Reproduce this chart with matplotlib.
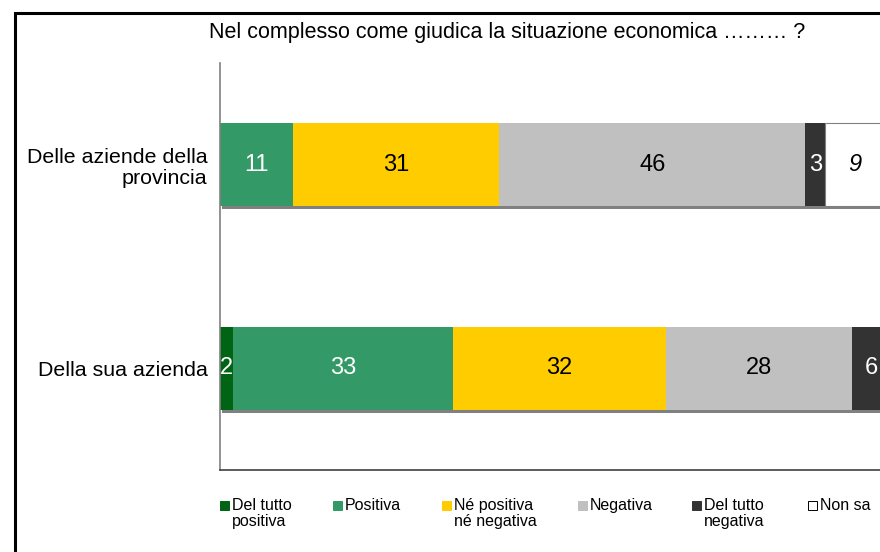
"""
Stacked horizontal bars: giudizio sulla situazione economica.
"""

import matplotlib

matplotlib.use("Agg")
import matplotlib.pyplot as plt
from matplotlib.patches import Rectangle

plt.rcParams["font.family"] = ["Liberation Sans", "DejaVu Sans"]

title = "Nel complesso come giudica la situazione economica \u2026\u2026\u2026 ?"
categories = ["Della sua azienda", "Delle aziende della\nprovincia"]
series = [
    "Del tutto\npositiva",
    "Positiva",
    "N\u00e9 positiva\nn\u00e9 negativa",
    "Negativa",
    "Del tutto\nnegativa",
    "Non sa",
]
# one list per series, same order as categories (bottom, top)
del_tutto_positiva = [2, 0]
positiva = [33, 11]
ne_pos_ne_neg = [32, 31]
negativa = [28, 46]
del_tutto_negativa = [6, 3]
non_sa = [0, 9]
values = [del_tutto_positiva, positiva, ne_pos_ne_neg, negativa, del_tutto_negativa, non_sa]

colors = ["#006414", "#339966", "#FFCC00", "#C0C0C0", "#333333", "#FFFFFF"]
label_colors = ["white", "white", "black", "black", "white", "black"]

W, H = 880, 552
fig = plt.figure(figsize=(W / 100, H / 100), dpi=100)
# axes run slightly past the right edge, as in the cropped original
ax = fig.add_axes([0.25, 0.1486, 0.7557, 0.7373])

ypos = list(range(len(categories)))
h = 0.41

# shadow under each bar
totals = [sum(v[i] for v in values) for i in ypos]
ax.barh([y - 0.014 for y in ypos], totals, height=h, left=0.3,
        color="#808080", zorder=1)

left = [0] * len(categories)
for k, (vals, col) in enumerate(zip(values, colors)):
    edge = "#808080" if col == "#FFFFFF" else col
    ax.barh(ypos, vals, height=h, left=left, color=col,
            edgecolor=edge, linewidth=0.8 if col == "#FFFFFF" else 0,
            zorder=2)
    for i, v in enumerate(vals):
        if v > 0:
            ax.text(left[i] + v / 2, ypos[i], str(v), ha="center", va="center",
                    fontsize=17, color=label_colors[k],
                    style="italic" if k == 5 else "normal", zorder=3)
    left = [l + v for l, v in zip(left, vals)]

ax.set_xlim(0, 100)
ax.set_ylim(-0.5, 1.5)
ax.set_xticks([])
ax.set_yticks(ypos)
ax.set_yticklabels(categories, fontsize=15.4, ha="right", linespacing=1.15)
ax.tick_params(axis="y", length=0, pad=9)
for s in ["top", "right"]:
    ax.spines[s].set_visible(False)
ax.spines["left"].set_color("#808080")
ax.spines["left"].set_linewidth(1.2)
ax.spines["bottom"].set_color("#404040")
ax.spines["bottom"].set_linewidth(1.2)

fig.text(0.576, 0.942, title, ha="center", va="center", fontsize=15.5)

# legend, top-aligned entries like the original
leg_x = [220, 333, 442, 578, 692, 808]
for x, lab, col in zip(leg_x, series, colors):
    fig.patches.append(Rectangle((x / W, 1 - 510 / H), 9 / W, 9 / H,
                                 transform=fig.transFigure, facecolor=col,
                                 edgecolor="black" if col == "#FFFFFF" else col,
                                 linewidth=0.7))
    fig.text((x + 12) / W, 1 - 498 / H, lab, ha="left", va="top",
             fontsize=11.5, linespacing=1.08)

# outer frame (partly outside the picture)
fig.patches.append(Rectangle((0.0165, -0.1), 1.2, 1.076, transform=fig.transFigure,
                             fill=False, edgecolor="black", linewidth=2.2))

fig.savefig("out.png", dpi=100)
